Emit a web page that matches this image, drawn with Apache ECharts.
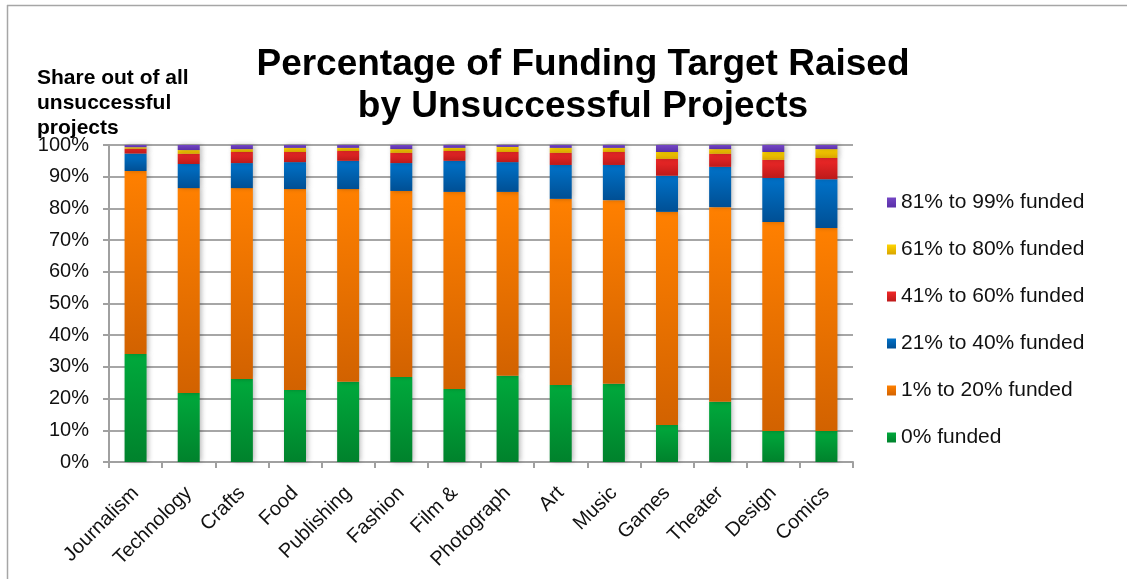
<!DOCTYPE html>
<html>
<head>
<meta charset="utf-8">
<script src="https://cdn.jsdelivr.net/npm/echarts@6/dist/echarts.min.js"></script>
<style>
  html, body { margin: 0; padding: 0; background: #fff; }
  #chart { width: 1127px; height: 579px; }
</style>
</head>
<body>
<div id="chart"></div>
<script>
// Categories along the x axis
const categories = ['Journalism', 'Technology', 'Crafts', 'Food', 'Publishing', 'Fashion',
  'Film &', 'Photograph', 'Art', 'Music', 'Games', 'Theater', 'Design', 'Comics'];

// Share (%) of unsuccessful projects in each funding band
const funded0    = [34.1, 21.8, 26.2, 22.7, 25.3, 26.8, 23.0, 27.2, 24.3, 24.7, 11.7, 19.0, 9.8, 9.8];
const funded1to20  = [57.7, 64.6, 60.2, 63.4, 60.8, 58.7, 62.2, 58.0, 58.7, 57.9, 67.2, 61.4, 65.9, 64.0];
const funded21to40 = [5.5, 7.6, 7.9, 8.5, 8.9, 8.8, 9.8, 9.4, 10.7, 11.1, 11.4, 12.7, 13.9, 15.4];
const funded41to60 = [1.5, 3.2, 3.5, 3.2, 3.1, 3.2, 3.1, 3.2, 3.8, 4.1, 5.3, 4.1, 5.7, 6.7];
const funded61to80 = [0.5, 1.2, 0.9, 1.3, 1.0, 1.2, 1.0, 1.6, 1.6, 1.3, 2.2, 1.5, 2.5, 2.8];
const funded81to99 = [0.7, 1.6, 1.3, 0.9, 0.9, 1.3, 0.9, 0.6, 0.9, 0.9, 2.2, 1.3, 2.2, 1.3];

const seriesNames = ['0% funded', '1% to 20% funded', '21% to 40% funded',
  '41% to 60% funded', '61% to 80% funded', '81% to 99% funded'];

const FONT = '"Liberation Sans", Arial, Helvetica, sans-serif';

function grad(top, bottom) {
  return new echarts.graphic.LinearGradient(0, 0, 0, 1, [
    { offset: 0, color: top },
    { offset: 1, color: bottom }
  ]);
}

const bandColors = [
  grad('#00a93c', '#00822c'),
  grad('#ff8000', '#d26200'),
  grad('#0072c9', '#004f94'),
  grad('#f02828', '#bd1a1a'),
  grad('#ffd500', '#d8a400'),
  grad('#7446c4', '#5a30a8')
];

const bandData = [funded0, funded1to20, funded21to40, funded41to60, funded61to80, funded81to99];

const series = bandData.map((d, i) => ({
  name: seriesNames[i],
  type: 'bar',
  stack: 'share',
  barWidth: 22,
  data: d,
  itemStyle: {
    color: bandColors[i],
    shadowColor: 'rgba(0,0,0,0.28)',
    shadowBlur: 5,
    shadowOffsetX: 2,
    shadowOffsetY: 0
  },
  emphasis: { disabled: true }
}));

const chart = echarts.init(document.getElementById('chart'), null, { renderer: 'canvas' });

chart.setOption({
  animation: false,
  backgroundColor: '#ffffff',
  textStyle: { fontFamily: FONT },
  grid: { left: 109, right: 274, top: 145, bottom: 117, containLabel: false },
  legend: {
    orient: 'vertical',
    left: 882,
    top: 187,
    itemWidth: 9,
    itemHeight: 10,
    itemGap: 26,
    icon: 'rect',
    data: seriesNames.slice().reverse(),
    textStyle: { fontFamily: FONT, fontSize: 21, color: '#111' }
  },
  xAxis: {
    type: 'category',
    data: categories,
    axisLine: { lineStyle: { color: '#a0a0a0', width: 2 } },
    axisTick: { show: true, length: 6, lineStyle: { color: '#a0a0a0', width: 2 } },
    axisLabel: {
      rotate: 45,
      interval: 0,
      margin: 28,
      fontFamily: FONT,
      fontSize: 20,
      color: '#111'
    }
  },
  yAxis: {
    type: 'value',
    min: 0,
    max: 100,
    interval: 10,
    axisLine: { show: true, lineStyle: { color: '#a0a0a0', width: 2 } },
    axisTick: { show: true, length: 6, lineStyle: { color: '#a0a0a0', width: 2 } },
    splitLine: { lineStyle: { color: '#a6a6a6', width: 2 } },
    axisLabel: {
      formatter: '{value}%',
      margin: 20,
      fontFamily: FONT,
      fontSize: 20,
      color: '#111'
    }
  },
  graphic: [
    {
      type: 'line',
      shape: { x1: 7, y1: 5.5, x2: 1127, y2: 5.5 },
      style: { stroke: '#a6a6a6', lineWidth: 1.5 }
    },
    {
      type: 'line',
      shape: { x1: 7.5, y1: 5, x2: 7.5, y2: 579 },
      style: { stroke: '#a6a6a6', lineWidth: 1.5 }
    },
    {
      type: 'text',
      x: 583,
      y: 44,
      style: {
        text: 'Percentage of Funding Target Raised\nby Unsuccessful Projects',
        font: 'bold 37px ' + FONT,
        lineHeight: 42,
        textAlign: 'center',
        textVerticalAlign: 'top',
        fill: '#000'
      }
    },
    {
      type: 'text',
      x: 37,
      y: 66,
      style: {
        text: 'Share out of all\nunsuccessful\nprojects',
        font: 'bold 21px ' + FONT,
        lineHeight: 25,
        textAlign: 'left',
        textVerticalAlign: 'top',
        fill: '#000'
      }
    }
  ],
  series: series
});
</script>
</body>
</html>
